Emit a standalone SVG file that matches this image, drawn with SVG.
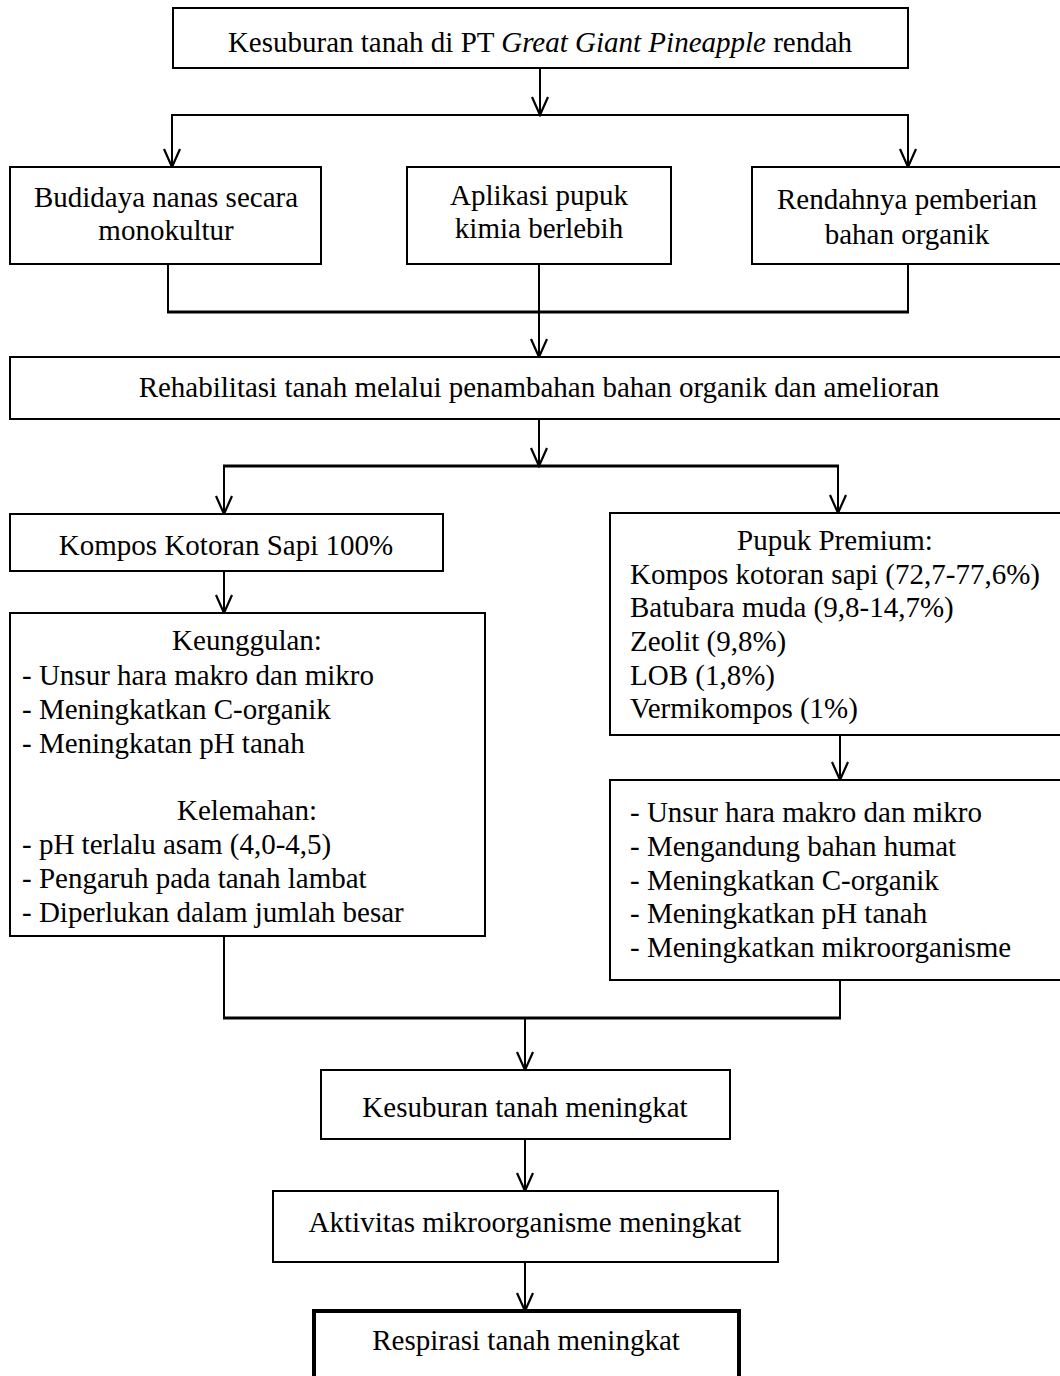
<svg xmlns="http://www.w3.org/2000/svg" width="1060" height="1376" viewBox="0 0 1060 1376">
<style>
.box{fill:#fff;stroke:#000;stroke-width:2}
.thick{fill:#fff;stroke:#000;stroke-width:4}
.t{font-family:"Liberation Serif","Times New Roman",serif;font-size:29px;fill:#000}
.c{text-anchor:middle}
.ln{fill:none;stroke:#000;stroke-width:2}
.hl{fill:none;stroke:#000;stroke-width:3}
</style>
<defs>
<marker id="arr" markerUnits="userSpaceOnUse" markerWidth="22" markerHeight="22" viewBox="-11 -20 22 22" refX="0" refY="0" orient="0">
<path d="M-8,-18 L0,0 L8,-18" fill="none" stroke="#000" stroke-width="2.2"/>
</marker>
</defs>
<rect width="1060" height="1376" fill="#fff"/>
<g id="connectors">
<line class="ln" x1="540" y1="68" x2="540" y2="115" marker-end="url(#arr)"/>
<polyline class="ln" points="172,167 172,115 908,115 908,167"/>
<line class="ln" x1="172" y1="140" x2="172" y2="167" marker-end="url(#arr)"/>
<line class="ln" x1="908" y1="140" x2="908" y2="167" marker-end="url(#arr)"/>
<line class="ln" x1="168" y1="264" x2="168" y2="312"/>
<line class="ln" x1="908" y1="264" x2="908" y2="312"/>
<line class="hl" x1="167" y1="312" x2="909" y2="312"/>
<line class="ln" x1="539" y1="264" x2="539" y2="357" marker-end="url(#arr)"/>
<line class="ln" x1="539" y1="419" x2="539" y2="466" marker-end="url(#arr)"/>
<line class="hl" x1="223" y1="466" x2="839" y2="466"/>
<line class="ln" x1="224" y1="466" x2="224" y2="514" marker-end="url(#arr)"/>
<line class="ln" x1="838" y1="466" x2="838" y2="513" marker-end="url(#arr)"/>
<line class="ln" x1="224" y1="571" x2="224" y2="613" marker-end="url(#arr)"/>
<line class="ln" x1="840" y1="735" x2="840" y2="780" marker-end="url(#arr)"/>
<line class="ln" x1="224" y1="936" x2="224" y2="1018"/>
<line class="ln" x1="840" y1="980" x2="840" y2="1018"/>
<line class="hl" x1="223" y1="1018" x2="841" y2="1018"/>
<line class="ln" x1="525" y1="1018" x2="525" y2="1070" marker-end="url(#arr)"/>
<line class="ln" x1="525" y1="1139" x2="525" y2="1191" marker-end="url(#arr)"/>
<line class="ln" x1="525" y1="1262" x2="525" y2="1311" marker-end="url(#arr)"/>
</g>
<g id="n-top">
<rect class="box" x="173" y="8" width="735" height="60"/>
<text class="t c" x="540" y="52">Kesuburan tanah di PT <tspan font-style="italic">Great Giant Pineapple</tspan> rendah</text>
</g>
<g id="n-budidaya">
<rect class="box" x="10" y="167" width="311" height="97"/>
<text class="t c" x="166" y="207">Budidaya nanas secara</text>
<text class="t c" x="166" y="240">monokultur</text>
</g>
<g id="n-aplikasi">
<rect class="box" x="407" y="167" width="264" height="97"/>
<text class="t c" x="539" y="205">Aplikasi pupuk</text>
<text class="t c" x="539" y="238">kimia berlebih</text>
</g>
<g id="n-rendahnya">
<rect class="box" x="752" y="167" width="310" height="97"/>
<text class="t c" x="907" y="209">Rendahnya pemberian</text>
<text class="t c" x="907" y="244">bahan organik</text>
</g>
<g id="n-rehab">
<rect class="box" x="10" y="357" width="1052" height="62"/>
<text class="t c" x="539" y="397">Rehabilitasi tanah melalui penambahan bahan organik dan amelioran</text>
</g>
<g id="n-kompos">
<rect class="box" x="10" y="514" width="433" height="57"/>
<text class="t c" x="226" y="555">Kompos Kotoran Sapi 100%</text>
</g>
<g id="n-keunggulan">
<rect class="box" x="10" y="613" width="475" height="323"/>
<text class="t c" x="247" y="650">Keunggulan:</text>
<text class="t" x="22" y="685">- Unsur hara makro dan mikro</text>
<text class="t" x="22" y="719">- Meningkatkan C-organik</text>
<text class="t" x="22" y="753">- Meningkatan pH tanah</text>
<text class="t c" x="247" y="820">Kelemahan:</text>
<text class="t" x="22" y="854">- pH terlalu asam (4,0-4,5)</text>
<text class="t" x="22" y="888">- Pengaruh pada tanah lambat</text>
<text class="t" x="22" y="922">- Diperlukan dalam jumlah besar</text>
</g>
<g id="n-pupuk">
<rect class="box" x="610" y="513" width="452" height="222"/>
<text class="t c" x="835" y="550">Pupuk Premium:</text>
<text class="t" x="630" y="584">Kompos kotoran sapi (72,7-77,6%)</text>
<text class="t" x="630" y="617">Batubara muda (9,8-14,7%)</text>
<text class="t" x="630" y="651">Zeolit (9,8%)</text>
<text class="t" x="630" y="685">LOB (1,8%)</text>
<text class="t" x="630" y="718">Vermikompos (1%)</text>
</g>
<g id="n-manfaat">
<rect class="box" x="610" y="780" width="452" height="200"/>
<text class="t" x="630" y="822">- Unsur hara makro dan mikro</text>
<text class="t" x="630" y="856">- Mengandung bahan humat</text>
<text class="t" x="630" y="890">- Meningkatkan C-organik</text>
<text class="t" x="630" y="923">- Meningkatkan pH tanah</text>
<text class="t" x="630" y="957">- Meningkatkan mikroorganisme</text>
</g>
<g id="n-kesuburan">
<rect class="box" x="321" y="1070" width="409" height="69"/>
<text class="t c" x="525" y="1117">Kesuburan tanah meningkat</text>
</g>
<g id="n-aktivitas">
<rect class="box" x="273" y="1191" width="505" height="71"/>
<text class="t c" x="525" y="1232">Aktivitas mikroorganisme meningkat</text>
</g>
<g id="n-respirasi">
<rect class="thick" x="314" y="1311" width="425" height="80"/>
<text class="t c" x="526" y="1350">Respirasi tanah meningkat</text>
</g>
</svg>
